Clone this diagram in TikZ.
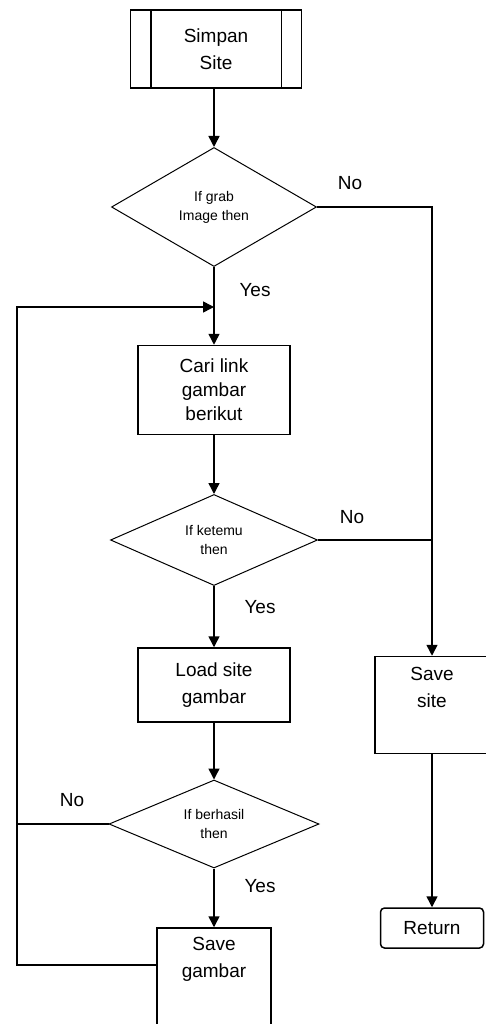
\documentclass[tikz,border=0pt]{standalone}
\usepackage{fontspec}
\setmainfont{Liberation Sans}
\usetikzlibrary{arrows.meta}
\usetikzlibrary{shapes.geometric}

\begin{document}
\begin{tikzpicture}
	[x=1pt,y=-1pt,line width=1.5pt,
	 every node/.style={font=\fontsize{19}{27}\selectfont,align=center},
	 procbox/.style={draw,rectangle,inner sep=0pt},
	 decision/.style={draw,diamond,aspect=2,line width=1pt,inner sep=0pt,font=\fontsize{14}{19}\selectfont},
	 flow/.style={-{Triangle[width=11pt,length=11pt]}},
	 tag/.style={inner sep=0pt}]
	\useasboundingbox (0,0) rectangle (486,1024);
	\clip (0,0) rectangle (486,1024);
	% main column
	\node [procbox,minimum width=171pt,minimum height=78pt] (simpan) at (216,49) {Simpan\\Site};
	\draw ([xshift=21pt]simpan.north west) -- ([xshift=21pt]simpan.south west);
	\draw ([xshift=-21pt]simpan.north east) -- ([xshift=-21pt]simpan.south east);
	\node [decision,minimum width=205pt,minimum height=119pt] (grab) at (214,207) {If grab\\Image then};
	\node [procbox,minimum width=152pt,minimum height=89pt,font=\fontsize{19}{24}\selectfont] (cari) at (214,390) {Cari link\\gambar\\berikut};
	\node [decision,minimum width=207pt,minimum height=91pt] (ketemu) at (214,540) {If ketemu\\then};
	\node [procbox,minimum width=152pt,minimum height=74pt] (load) at (214,685) {Load site\\gambar};
	\node [decision,minimum width=210pt,minimum height=88pt] (berhasil) at (214,824) {If berhasil\\then};
	\node [procbox,minimum width=114pt,minimum height=120pt] (savegbr) at (214,988) {Save\\gambar\\\strut\\\strut};
	% right column
	\node [procbox,minimum width=114pt,minimum height=97pt] (savesite) at (432,705) {Save\\site\\\strut};
	\node [procbox,rounded corners=4pt,minimum width=103pt,minimum height=40pt] (return) at (432,928) {Return};
	% join points
	\coordinate (loopin) at (214,307);
	\coordinate (loopleft) at (17,307);
	\coordinate (gleft) at (17,965);
	\coordinate (bleft) at (17,824);
	\coordinate (kjoin) at (432,540);
	% labels
	\node [tag] (no1) at (350,183) {No};
	\node [tag] (yes1) at (255,290) {Yes};
	\node [tag] (no2) at (352,517) {No};
	\node [tag] (yes2) at (260,607) {Yes};
	\node [tag] (no3) at (72,800) {No};
	\node [tag] (yes3) at (260,886) {Yes};
	% connectors
	\draw [flow] (simpan.south -| grab.north) -- (grab);
	\draw (grab.south) -- (loopin);
	\draw [flow] (loopin) -- (cari);
	\draw [flow] (cari) -- (ketemu);
	\draw [flow] (ketemu) -- (load);
	\draw [flow] (load) -- (berhasil);
	\draw [flow] (berhasil) -- (savegbr);
	\draw [flow] (grab.east) -| (savesite.north);
	\draw (ketemu.east) -- (kjoin);
	\draw [flow] (savesite) -- (return);
	\draw (berhasil.west) -- (bleft);
	\draw [flow] (savegbr.west |- gleft) -- (gleft) -- (loopleft) -- (loopin);
\end{tikzpicture}
\end{document}
